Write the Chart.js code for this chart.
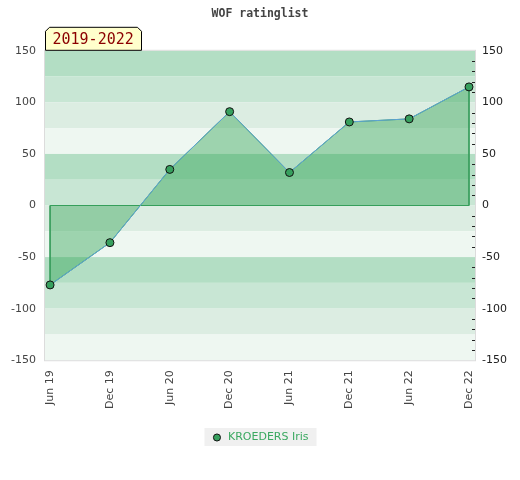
<!DOCTYPE html>
<html>
<head>
<meta charset="utf-8">
<script src="https://cdn.jsdelivr.net/npm/chart.js@4/dist/chart.umd.min.js"></script>
<style>
  html, body { margin: 0; padding: 0; background: #fff; }
  #wrap { width: 520px; height: 480px; }
</style>
</head>
<body>
<div id="wrap"><canvas id="rating"></canvas></div>
<script>
// --- DATA ---
const periodLabels = ['Jun 19', 'Dec 19', 'Jun 20', 'Dec 20', 'Jun 21', 'Dec 21', 'Jun 22', 'Dec 22'];
const ratingValues = [-77, -36, 35, 91, 32, 81, 84, 115];
const playerName = 'KROEDERS Iris';
const periodText = '2019-2022';
const yTicks = [-150, -100, -50, 0, 50, 100, 150];

// points for the shaded polygon (baseline -> series -> baseline)
const last = periodLabels.length - 1;
const fillPoints = [{ x: 0, y: 0 }]
    .concat(ratingValues.map((v, i) => ({ x: i, y: v })))
    .concat([{ x: last, y: 0 }]);
const basePoints = [{ x: 0, y: 0 }, { x: last, y: 0 }];

Chart.defaults.font.family = 'DejaVu Sans';
Chart.defaults.font.size = 11;
Chart.defaults.color = '#444';

// striped background, 25 units per band
const bands = {
    id: 'bands',
    beforeDatasetsDraw(chart) {
        const { ctx, chartArea: a, scales: { y } } = chart;
        const colors = ['#b3dec4', '#c8e6d4', '#dcede2', '#eef7f1'];
        ctx.save();
        let k = 0;
        for (let v = y.max; v > y.min; v -= 25) {
            const top = y.getPixelForValue(v);
            const bot = y.getPixelForValue(v - 25);
            ctx.fillStyle = colors[k % 4];
            ctx.fillRect(a.left, top, a.right - a.left, bot - top);
            k++;
        }
        ctx.strokeStyle = '#dcdcdc';
        ctx.lineWidth = 1;
        ctx.strokeRect(a.left - 0.5, a.top - 0.5, a.right - a.left + 1, a.bottom - a.top + 1);
        ctx.restore();
    },
    afterDatasetsDraw(chart) {
        // minor ticks on the right axis, inside the plot
        const { ctx, chartArea: a, scales: { y2 } } = chart;
        ctx.save();
        ctx.strokeStyle = '#222';
        ctx.lineWidth = 1;
        y2.ticks.forEach(t => {
            if (t.value % 50 === 0) return;
            const py = Math.round(y2.getPixelForValue(t.value)) + 0.5;
            ctx.beginPath();
            ctx.moveTo(a.right - 3, py);
            ctx.lineTo(a.right, py);
            ctx.stroke();
        });
        ctx.restore();
    },
    afterDraw(chart) {
        // period tag on top of the plot
        const { ctx, chartArea: a } = chart;
        const x0 = a.left + 0.5, x1 = a.left + 96.5, y0 = a.top - 23.5, y1 = a.top - 0.5, c = 4;
        ctx.save();
        ctx.beginPath();
        ctx.moveTo(x0, y1);
        ctx.lineTo(x0, y0 + c);
        ctx.lineTo(x0 + c, y0);
        ctx.lineTo(x1 - c, y0);
        ctx.lineTo(x1, y0 + c);
        ctx.lineTo(x1, y1);
        ctx.closePath();
        ctx.fillStyle = '#ffffcc';
        ctx.fill();
        ctx.strokeStyle = '#000';
        ctx.stroke();
        ctx.fillStyle = '#8b0000';
        ctx.font = '15px "DejaVu Sans Mono"';
        ctx.textBaseline = 'middle';
        ctx.fillText(periodText, x0 + 7, (y0 + y1) / 2 + 1);
        ctx.restore();
    },
    beforeDraw(chart) {
        // grey box behind the legend
        const lg = chart.legend;
        if (!lg || !lg.legendHitBoxes || !lg.legendHitBoxes.length) return;
        const hb = lg.legendHitBoxes[0];
        const ctx = chart.ctx;
        ctx.save();
        ctx.fillStyle = '#f0f0f0';
        ctx.fillRect(hb.left - 7, hb.top - 4, hb.width + 15, hb.height + 7);
        ctx.restore();
    }
};

new Chart(document.getElementById('rating').getContext('2d'), {
    type: 'line',
    data: {
        datasets: [
            {
                label: playerName,
                data: ratingValues.map((v, i) => ({ x: i, y: v })),
                borderColor: '#5ea3d6',
                borderWidth: 1,
                backgroundColor: '#37a05e',
                pointBackgroundColor: '#37a05e',
                pointBorderColor: '#111',
                pointBorderWidth: 1,
                pointRadius: 4,
                fill: false,
                tension: 0,
                order: 0
            },
            {
                label: 'area',
                data: fillPoints,
                borderColor: '#3a9e5e',
                borderWidth: 1,
                backgroundColor: 'rgba(45, 161, 81, 0.42)',
                pointRadius: 0,
                fill: 'origin',
                tension: 0,
                order: 1
            },
            {
                label: 'base',
                data: basePoints,
                borderColor: '#3a9e5e',
                borderWidth: 1,
                pointRadius: 0,
                fill: false,
                order: 2
            }
        ]
    },
    options: {
        responsive: true,
        maintainAspectRatio: false,
        animation: false,
        layout: { padding: { left: 0, right: 0, top: 0, bottom: 27 } },
        scales: {
            x: {
                type: 'linear',
                min: -0.085,
                max: last + 0.1,
                afterBuildTicks: s => { s.ticks = periodLabels.map((_, i) => ({ value: i })); },
                afterFit: s => { s.height -= 1; },
                ticks: {
                    autoSkip: false,
                    minRotation: 90,
                    maxRotation: 90,
                    padding: 10,
                    color: '#444',
                    callback: v => periodLabels[v]
                },
                grid: { display: false, drawTicks: false },
                border: { display: false }
            },
            y: {
                position: 'left',
                min: -150,
                max: 150,
                afterBuildTicks: s => { s.ticks = yTicks.map(v => ({ value: v })); },
                afterFit: s => { s.width = 45; },
                ticks: { padding: 9, color: '#444' },
                grid: { display: false, drawTicks: false },
                border: { display: false }
            },
            y2: {
                position: 'right',
                min: -150,
                max: 150,
                afterFit: s => { s.width = 45; },
                ticks: {
                    stepSize: 10,
                    autoSkip: false,
                    padding: 7,
                    color: '#222',
                    callback: v => (v % 50 === 0 ? v : '')
                },
                grid: { display: false, drawTicks: false },
                border: { display: false }
            }
        },
        plugins: {
            title: {
                display: true,
                text: 'WOF ratinglist',
                color: '#444',
                font: { family: 'DejaVu Sans Mono', weight: 'bold', size: 11.5 },
                padding: { top: 7, bottom: 30 }
            },
            legend: {
                position: 'bottom',
                labels: {
                    filter: item => item.datasetIndex === 0,
                    usePointStyle: true,
                    boxWidth: 11,
                    boxHeight: 5,
                    color: '#3aa860',
                    padding: 14,
                    font: { size: 11 }
                }
            },
            tooltip: { enabled: false }
        }
    },
    plugins: [bands]
});
</script>
</body>
</html>
